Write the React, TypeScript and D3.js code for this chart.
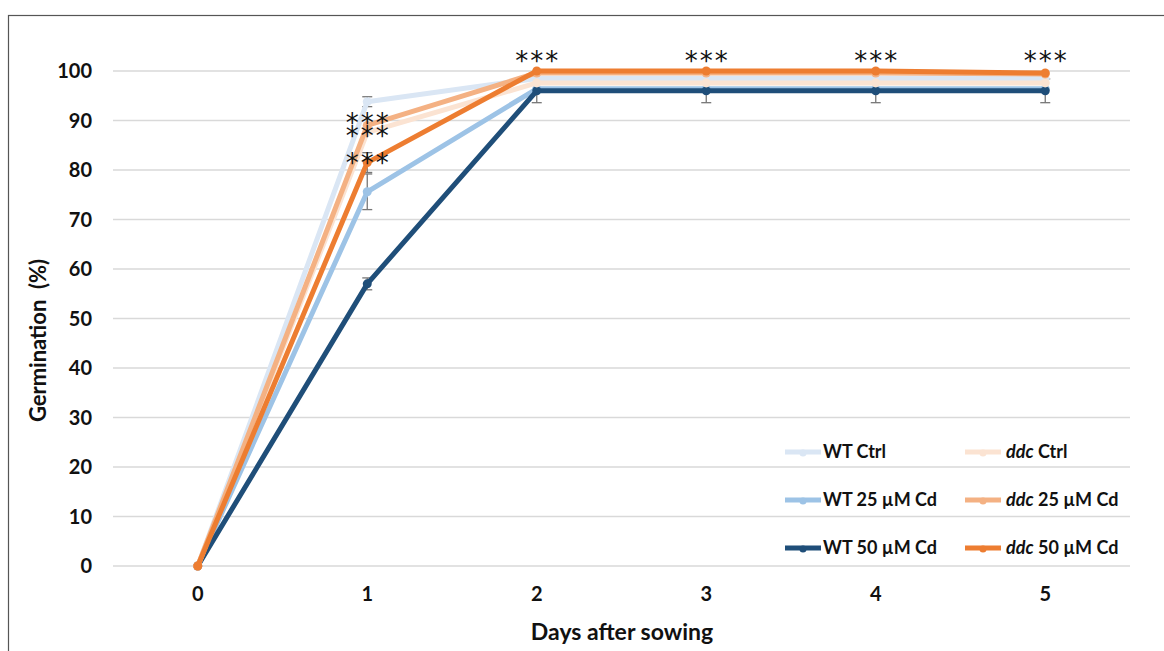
import React from 'react';
import * as d3 from 'd3';

// days after sowing
const days = ['0', '1', '2', '3', '4', '5'];
const yTicks = [0, 10, 20, 30, 40, 50, 60, 70, 80, 90, 100];

// germination % per series
const wtCtrl = [0, 93.8, 98.5, 98.5, 98.5, 98.5];
const wt25 = [0, 75.6, 96.4, 96.4, 96.4, 96.4];
const wt50 = [0, 57, 96, 96, 96, 96];
const ddcCtrl = [0, 87.6, 97.6, 97.6, 97.6, 97.6];
const ddc25 = [0, 89, 99.6, 99.6, 99.6, 99.4];
const ddc50 = [0, 81.5, 100, 100, 100, 99.6];

// standard errors
const wtCtrlErr = [0, 1, 0.5, 0.5, 0.5, 0.5];
const wt25Err = [0, 3.6, 0.5, 0.5, 0.5, 0.5];
const wt50Err = [0, 1.2, 2.4, 2.4, 2.4, 2.4];
const ddcCtrlErr = [0, 0.5, 0.5, 0.5, 0.5, 0.5];
const ddc25Err = [0, 0.5, 0.3, 0.3, 0.3, 0.3];
const ddc50Err = [0, 2, 0.3, 0.3, 0.3, 0.3];

// significance marks: day index and the value at which the stars are centred
const starDays = [1, 1, 1, 2, 3, 4, 5];
const starVals = [90.2, 87.4, 82.0, 102.6, 102.6, 102.6, 102.6];

const series = [
  { name: 'WT Ctrl', strain: 'WT', dose: 'Ctrl', values: wtCtrl, err: wtCtrlErr, color: '#dae6f4' },
  { name: 'WT 25 µM Cd', strain: 'WT', dose: '25 µM Cd', values: wt25, err: wt25Err, color: '#9dc3e6' },
  { name: 'WT 50 µM Cd', strain: 'WT', dose: '50 µM Cd', values: wt50, err: wt50Err, color: '#1f4e79' },
  { name: 'ddc Ctrl', strain: 'ddc', dose: 'Ctrl', values: ddcCtrl, err: ddcCtrlErr, color: '#fbe3d2' },
  { name: 'ddc 25 µM Cd', strain: 'ddc', dose: '25 µM Cd', values: ddc25, err: ddc25Err, color: '#f4b183' },
  { name: 'ddc 50 µM Cd', strain: 'ddc', dose: '50 µM Cd', values: ddc50, err: ddc50Err, color: '#ed7d31' },
];

const font = 'Lato, "Open Sans", sans-serif';

const App = () => {
  const left = 113;
  const right = 1130;
  const top = 71;
  const bottom = 566;

  const x = d3.scaleBand().domain(days).range([left, right]);
  const y = d3.scaleLinear().domain([0, 100]).range([bottom, top]);
  const cx = (i: number) => (x(days[i]) as number) + x.bandwidth() / 2;

  const line = d3
    .line<number>()
    .x((d, i) => cx(i))
    .y(d => y(d));

  return (
    <svg
      width={1164}
      height={651}
      style={{ position: 'absolute', left: 0, top: 0, background: '#fff' }}
    >
      <rect x={8.5} y={15.5} width={1160} height={700} fill="#fff" stroke="#555" strokeWidth={1.2} />

      {/* gridlines */}
      {yTicks.map(t => (
        <line key={t} x1={left} x2={right} y1={y(t)} y2={y(t)} stroke="#d9d9d9" strokeWidth={1.5} />
      ))}

      {/* y tick labels */}
      {yTicks.map(t => (
        <text
          key={'yl' + t}
          x={92}
          y={y(t)}
          dy="0.36em"
          textAnchor="end"
          fontFamily={font}
          fontWeight="bold"
          fontSize={20}
          fill="#111"
        >
          {t}
        </text>
      ))}

      {/* x tick labels */}
      {days.map((d, i) => (
        <text
          key={'xl' + d}
          x={cx(i)}
          y={601}
          textAnchor="middle"
          fontFamily={font}
          fontWeight="bold"
          fontSize={20}
          fill="#111"
        >
          {d}
        </text>
      ))}

      <text
        transform={`translate(46, ${(top + bottom) / 2 + 22}) rotate(-90)`}
        textAnchor="middle"
        fontFamily={font}
        fontWeight="bold"
        fontSize={22}
        fill="#111"
        style={{ whiteSpace: 'pre' }}
      >
        {'Germination  (%)'}
      </text>
      <text x={622} y={640} textAnchor="middle" fontFamily={font} fontWeight="bold" fontSize={23} fill="#111">
        Days after sowing
      </text>

      {/* error bars */}
      {series.map(s =>
        s.values.map((v, i) =>
          s.err[i] > 0.6 ? (
            <g key={s.name + 'e' + i} stroke="#777" strokeWidth={1.3}>
              <line x1={cx(i)} x2={cx(i)} y1={y(v - s.err[i])} y2={y(v + s.err[i])} />
              <line x1={cx(i) - 5} x2={cx(i) + 5} y1={y(v - s.err[i])} y2={y(v - s.err[i])} />
              <line x1={cx(i) - 5} x2={cx(i) + 5} y1={y(v + s.err[i])} y2={y(v + s.err[i])} />
            </g>
          ) : null
        )
      )}

      {/* series lines */}
      {series.map(s => (
        <g key={s.name}>
          <path d={line(s.values) as string} fill="none" stroke={s.color} strokeWidth={5} strokeLinejoin="round" />
          {s.values.map((v, i) => (
            <circle key={i} cx={cx(i)} cy={y(v)} r={4.5} fill={s.color} />
          ))}
        </g>
      ))}

      {/* significance stars */}
      {starDays.map((d, i) => (
        <text
          key={'s' + i}
          x={cx(d) + 1}
          y={y(starVals[i]) + 12}
          textAnchor="middle"
          fontFamily="'DejaVu Sans', sans-serif"
          fontSize={26}
          letterSpacing={2}
          fill="#111"
        >
          ***
        </text>
      ))}

      {/* legend */}
      {series.map((s, i) => {
        const col = s.strain === 'WT' ? 0 : 1;
        const row = i % 3;
        const lx = col === 0 ? 785 : 965;
        const ly = 452 + row * 48;
        return (
          <g key={'lg' + s.name}>
            <line x1={lx} x2={lx + 36} y1={ly} y2={ly} stroke={s.color} strokeWidth={5} />
            <circle cx={lx + 18} cy={ly + 1} r={3.5} fill={s.color} />
            <text
              x={lx + (col === 0 ? 38 : 41)}
              y={ly}
              dy="0.35em"
              fontFamily={font}
              fontWeight="bold"
              fontSize={18}
              fill="#111"
            >
              {s.strain === 'ddc' ? <tspan fontStyle="italic">ddc</tspan> : 'WT'}
              {' ' + s.dose}
            </text>
          </g>
        );
      })}
    </svg>
  );
};

export default App;
